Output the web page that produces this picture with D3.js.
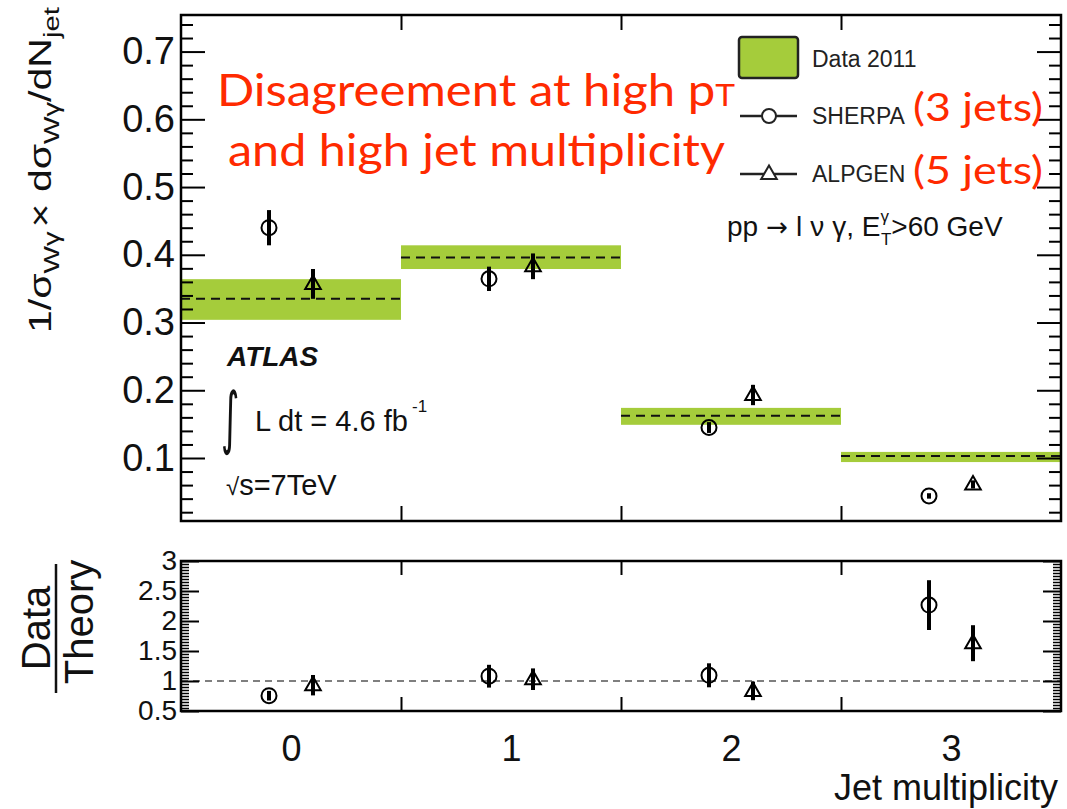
<!DOCTYPE html>
<html><head><meta charset="utf-8">
<script src="https://cdn.jsdelivr.net/npm/d3@7"></script>
<style>
body{margin:0;background:#fff}
svg{display:block}
</style></head><body>
<svg id="chart" width="1067" height="809" font-family="'Liberation Sans', Arial, Helvetica, sans-serif" fill="#111"></svg>
<script>
// Jet-multiplicity bins
const jetBins = [0, 1, 2, 3];
const binEdges = [-0.5, 0.5, 1.5, 2.5, 3.5];
const binLabels = ["0", "1", "2", "3"];

// Measured normalised distribution (Data 2011) with uncertainty band
const dataValue = [0.335, 0.396, 0.1625, 0.103];
const dataLow   = [0.304, 0.379, 0.149, 0.094];
const dataHigh  = [0.364, 0.414, 0.174, 0.109];

// Generator predictions
const sherpaValue = [0.440, 0.3645, 0.145, 0.044];
const sherpaErr   = [0.026, 0.018, 0.008, 0.004];
const alpgenValue = [0.357, 0.383, 0.193, 0.061];
const alpgenErr   = [0.022, 0.019, 0.015, 0.006];

// Data / Theory ratios
const sherpaRatio    = [0.755, 1.08, 1.095, 2.265];
const sherpaRatioErr = [0.08, 0.19, 0.20, 0.415];
const alpgenRatio    = [0.93, 1.03, 0.835, 1.63];
const alpgenRatioErr = [0.17, 0.18, 0.155, 0.30];

// Tick values
const mainTicks  = [0.1, 0.2, 0.3, 0.4, 0.5, 0.6, 0.7];
const ratioTicks = [0.5, 1, 1.5, 2, 2.5, 3];

const svg = d3.select("#chart");
const green = "#a5cc3b";

const L = 181, R = 1061;
const mainTop = 15, mainBot = 521;
const ratTop = 561, ratBot = 711;

const x = d3.scaleLinear().domain([-0.5, 3.5]).range([L, R]);
const y = d3.scaleLinear().domain([0.007, 0.754]).range([mainBot, mainTop]);
const yr = d3.scaleLinear().domain([0.5, 3]).range([ratBot, ratTop]);

const minorMain = d3.range(0.02, 0.745, 0.02).filter(v => Math.abs(v * 10 - Math.round(v * 10)) > 1e-6);
const minorRatio = d3.range(0.55, 3.0, 0.05).filter(v => Math.abs(v * 2 - Math.round(v * 2)) > 1e-6);
const binBounds = binEdges.slice(1, -1);

function styleAxis(g, width) {
  g.select(".domain").remove();
  g.selectAll(".tick line").attr("stroke", "#000").attr("stroke-width", width);
}

// ---------- main panel ----------
const main = svg.append("g");

// data bands
main.selectAll("rect.band").data(jetBins).join("rect")
  .attr("class", "band")
  .attr("x", i => x(binEdges[i]))
  .attr("width", i => x(binEdges[i + 1]) - x(binEdges[i]))
  .attr("y", i => y(dataHigh[i]))
  .attr("height", i => y(dataLow[i]) - y(dataHigh[i]))
  .attr("fill", green);

main.selectAll("line.central").data(jetBins).join("line")
  .attr("class", "central")
  .attr("x1", i => x(binEdges[i])).attr("x2", i => x(binEdges[i + 1]))
  .attr("y1", i => y(dataValue[i])).attr("y2", i => y(dataValue[i]))
  .attr("stroke", "#111").attr("stroke-width", 2).attr("stroke-dasharray", "9,6");

// axes
main.append("g").attr("transform", `translate(${L},0)`)
  .call(d3.axisLeft(y).tickValues(mainTicks).tickSizeInner(-24).tickSizeOuter(0)
    .tickPadding(6).tickFormat(d3.format(".1f")))
  .call(g => {
    styleAxis(g, 2);
    g.attr("font-family", null);
    g.selectAll("text").attr("font-size", 38).attr("fill", "#111");
  });
main.append("g").attr("transform", `translate(${L},0)`)
  .call(d3.axisLeft(y).tickValues(minorMain).tickSizeInner(-12).tickSizeOuter(0).tickFormat(""))
  .call(g => styleAxis(g, 2));
main.append("g").attr("transform", `translate(${R},0)`)
  .call(d3.axisRight(y).tickValues(mainTicks).tickSizeInner(-24).tickSizeOuter(0).tickFormat(""))
  .call(g => styleAxis(g, 2));
main.append("g").attr("transform", `translate(${R},0)`)
  .call(d3.axisRight(y).tickValues(minorMain).tickSizeInner(-12).tickSizeOuter(0).tickFormat(""))
  .call(g => styleAxis(g, 2));
main.append("g").attr("transform", `translate(0,${mainBot})`)
  .call(d3.axisBottom(x).tickValues(binBounds).tickSizeInner(-15).tickSizeOuter(0).tickFormat(""))
  .call(g => styleAxis(g, 2));
main.append("g").attr("transform", `translate(0,${mainTop})`)
  .call(d3.axisTop(x).tickValues(binBounds).tickSizeInner(-15).tickSizeOuter(0).tickFormat(""))
  .call(g => styleAxis(g, 2));

main.append("rect").attr("x", L).attr("y", mainTop).attr("width", R - L).attr("height", mainBot - mainTop)
  .attr("fill", "none").attr("stroke", "#000").attr("stroke-width", 2.5);

// markers
const triPath = "M0,-8.5L7.8,5L-7.8,5Z";
function drawPoints(g, xs, vals, errs, yscale, shape) {
  const grp = g.append("g");
  grp.selectAll("line").data(jetBins).join("line")
    .attr("x1", i => x(xs(i))).attr("x2", i => x(xs(i)))
    .attr("y1", i => yscale(vals[i] + errs[i])).attr("y2", i => yscale(vals[i] - errs[i]))
    .attr("stroke", "#000").attr("stroke-width", 4);
  if (shape === "circle") {
    grp.selectAll("circle").data(jetBins).join("circle")
      .attr("cx", i => x(xs(i))).attr("cy", i => yscale(vals[i])).attr("r", 7.5)
      .attr("fill", "none").attr("stroke", "#000").attr("stroke-width", 2);
  } else {
    grp.selectAll("path").data(jetBins).join("path")
      .attr("transform", i => `translate(${x(xs(i))},${yscale(vals[i])})`)
      .attr("d", triPath).attr("fill", "none").attr("stroke", "#000").attr("stroke-width", 2);
  }
}
drawPoints(main, i => jetBins[i] - 0.1, sherpaValue, sherpaErr, y, "circle");
drawPoints(main, i => jetBins[i] + 0.1, alpgenValue, alpgenErr, y, "triangle");

// y title
const yt = main.append("g").attr("transform", "translate(51,333) rotate(-90)");
const ytText = yt.append("text").attr("font-size", 31);
ytText.append("tspan").text("1/σ");
ytText.append("tspan").attr("font-size", 22).attr("dy", 8).text("Wγ");
ytText.append("tspan").attr("dy", -8).attr("dx", 3).text("×");
ytText.append("tspan").text(" dσ");
ytText.append("tspan").attr("font-size", 22).attr("dy", 8).text("Wγ");
ytText.append("tspan").attr("dy", -8).text("/dN");
ytText.append("tspan").attr("font-size", 22).attr("dy", 8).text("jet");
const ytLen = ytText.node().getComputedTextLength();
ytText.attr("transform", `scale(${322 / ytLen},1)`);

// legend
main.append("rect").attr("x", 739).attr("y", 37).attr("width", 59).attr("height", 41).attr("rx", 3)
  .attr("fill", green).attr("stroke", "#222").attr("stroke-width", 2.5);
main.append("line").attr("x1", 740).attr("x2", 797).attr("y1", 116).attr("y2", 116)
  .attr("stroke", "#222").attr("stroke-width", 2.5);
main.append("circle").attr("cx", 769).attr("cy", 116).attr("r", 7)
  .attr("fill", "#fff").attr("stroke", "#222").attr("stroke-width", 2);
main.append("line").attr("x1", 740).attr("x2", 797).attr("y1", 174).attr("y2", 174)
  .attr("stroke", "#222").attr("stroke-width", 2.5);
main.append("path").attr("transform", "translate(769,174)").attr("d", triPath)
  .attr("fill", "#fff").attr("stroke", "#222").attr("stroke-width", 2);
const legTxt = [["Data 2011", 67], ["SHERPA", 124], ["ALPGEN", 182]];
legTxt.forEach(([t, yy]) => main.append("text").attr("x", 812).attr("y", yy)
  .attr("font-size", 23).attr("fill", "#222").text(t));

// process label
const proc = main.append("text").attr("x", 727).attr("y", 236).attr("font-size", 28);
proc.append("tspan").text("pp");
proc.append("tspan").attr("dx", 8).attr("font-family", "'DejaVu Sans'").attr("font-size", 26).text("→");
proc.append("tspan").attr("dx", 8).text("l");
proc.append("tspan").attr("dx", 8).text("ν");
proc.append("tspan").attr("dx", 8).text("γ, E");
proc.append("tspan").attr("font-size", 17).attr("dy", -14).text("γ");
proc.append("tspan").attr("font-size", 17).attr("dx", -8).attr("dy", 23).text("T");
proc.append("tspan").attr("dy", -9).text(">60 GeV");

// ATLAS labels
main.append("text").attr("x", 227).attr("y", 366).attr("font-size", 28)
  .attr("font-weight", "bold").attr("font-style", "italic").text("ATLAS");
main.append("text").attr("font-size", 44)
  .attr("font-family", "'DejaVu Sans'")
  .attr("transform", "translate(221,441) scale(0.8,1.55)")
  .text("∫");
main.append("text").attr("x", 255).attr("y", 431).attr("font-size", 29).text("L dt = 4.6 fb");
main.append("text").attr("x", 412).attr("y", 412).attr("font-size", 17).text("-1");
const sq = main.append("text").attr("x", 226).attr("y", 495).attr("font-size", 29);
sq.append("tspan").attr("font-size", 24).text("√");
sq.append("tspan").text("s=7TeV");

// red annotations
const red = "#ff2a00";
const ann = "Lato, 'Open Sans', sans-serif";
const a1 = main.append("text").attr("x", 217).attr("y", 106).attr("font-size", 44)
  .attr("font-family", ann).attr("fill", red)
  .attr("textLength", 518).attr("lengthAdjust", "spacingAndGlyphs");
a1.append("tspan").text("Disagreement at high p");
a1.append("tspan").attr("font-size", 30).text("T");
main.append("text").attr("x", 228).attr("y", 166).attr("font-size", 44)
  .attr("font-family", ann).attr("fill", red)
  .attr("textLength", 497).attr("lengthAdjust", "spacingAndGlyphs")
  .text("and high jet multiplicity");
main.append("text").attr("x", 913).attr("y", 121).attr("font-size", 38)
  .attr("font-family", ann).attr("fill", red)
  .attr("textLength", 130).attr("lengthAdjust", "spacingAndGlyphs").text("(3 jets)");
main.append("text").attr("x", 913).attr("y", 184).attr("font-size", 38)
  .attr("font-family", ann).attr("fill", red)
  .attr("textLength", 130).attr("lengthAdjust", "spacingAndGlyphs").text("(5 jets)");

// ---------- ratio panel ----------
const rat = svg.append("g");
rat.append("line").attr("x1", L).attr("x2", R).attr("y1", yr(1)).attr("y2", yr(1))
  .attr("stroke", "#555").attr("stroke-width", 1.5).attr("stroke-dasharray", "7,5");

rat.append("g").attr("transform", `translate(${L},0)`)
  .call(d3.axisLeft(yr).tickValues(ratioTicks).tickSizeInner(-18).tickSizeOuter(0)
    .tickPadding(4).tickFormat(d3.format("~g")))
  .call(g => {
    styleAxis(g, 2);
    g.attr("font-family", null);
    g.selectAll("text").attr("font-size", 28).attr("fill", "#111");
  });
rat.append("g").attr("transform", `translate(${L},0)`)
  .call(d3.axisLeft(yr).tickValues(minorRatio).tickSizeInner(-8).tickSizeOuter(0).tickFormat(""))
  .call(g => styleAxis(g, 1.5));
rat.append("g").attr("transform", `translate(${R},0)`)
  .call(d3.axisRight(yr).tickValues(ratioTicks).tickSizeInner(-18).tickSizeOuter(0).tickFormat(""))
  .call(g => styleAxis(g, 2));
rat.append("g").attr("transform", `translate(${R},0)`)
  .call(d3.axisRight(yr).tickValues(minorRatio).tickSizeInner(-8).tickSizeOuter(0).tickFormat(""))
  .call(g => styleAxis(g, 1.5));
rat.append("g").attr("transform", `translate(0,${ratBot})`)
  .call(d3.axisBottom(x).tickValues(binBounds).tickSizeInner(-14).tickSizeOuter(0).tickFormat(""))
  .call(g => styleAxis(g, 2));
rat.append("g").attr("transform", `translate(0,${ratTop})`)
  .call(d3.axisTop(x).tickValues(binBounds).tickSizeInner(-14).tickSizeOuter(0).tickFormat(""))
  .call(g => styleAxis(g, 2));
rat.append("g").attr("transform", `translate(0,${ratBot})`)
  .call(d3.axisBottom(x).tickValues(jetBins).tickSize(0).tickPadding(24).tickFormat((d, i) => binLabels[i]))
  .call(g => {
    g.select(".domain").remove();
    g.attr("font-family", null);
    g.selectAll("text").attr("font-size", 36).attr("fill", "#111");
  });

rat.append("rect").attr("x", L).attr("y", ratTop).attr("width", R - L).attr("height", ratBot - ratTop)
  .attr("fill", "none").attr("stroke", "#000").attr("stroke-width", 2.5);

drawPoints(rat, i => jetBins[i] - 0.1, sherpaRatio, sherpaRatioErr, yr, "circle");
drawPoints(rat, i => jetBins[i] + 0.1, alpgenRatio, alpgenRatioErr, yr, "triangle");

// ratio title
rat.append("text").attr("transform", "translate(50,628) rotate(-90)").attr("text-anchor", "middle")
  .attr("font-size", 40).text("Data");
rat.append("text").attr("transform", "translate(93,622) rotate(-90)").attr("text-anchor", "middle")
  .attr("font-size", 40).text("Theory");
rat.append("line").attr("x1", 56).attr("x2", 56).attr("y1", 564).attr("y2", 693)
  .attr("stroke", "#111").attr("stroke-width", 2.5);

svg.append("text").attr("x", 1058).attr("y", 800).attr("text-anchor", "end")
  .attr("font-size", 36).text("Jet multiplicity");
</script>
</body></html>
